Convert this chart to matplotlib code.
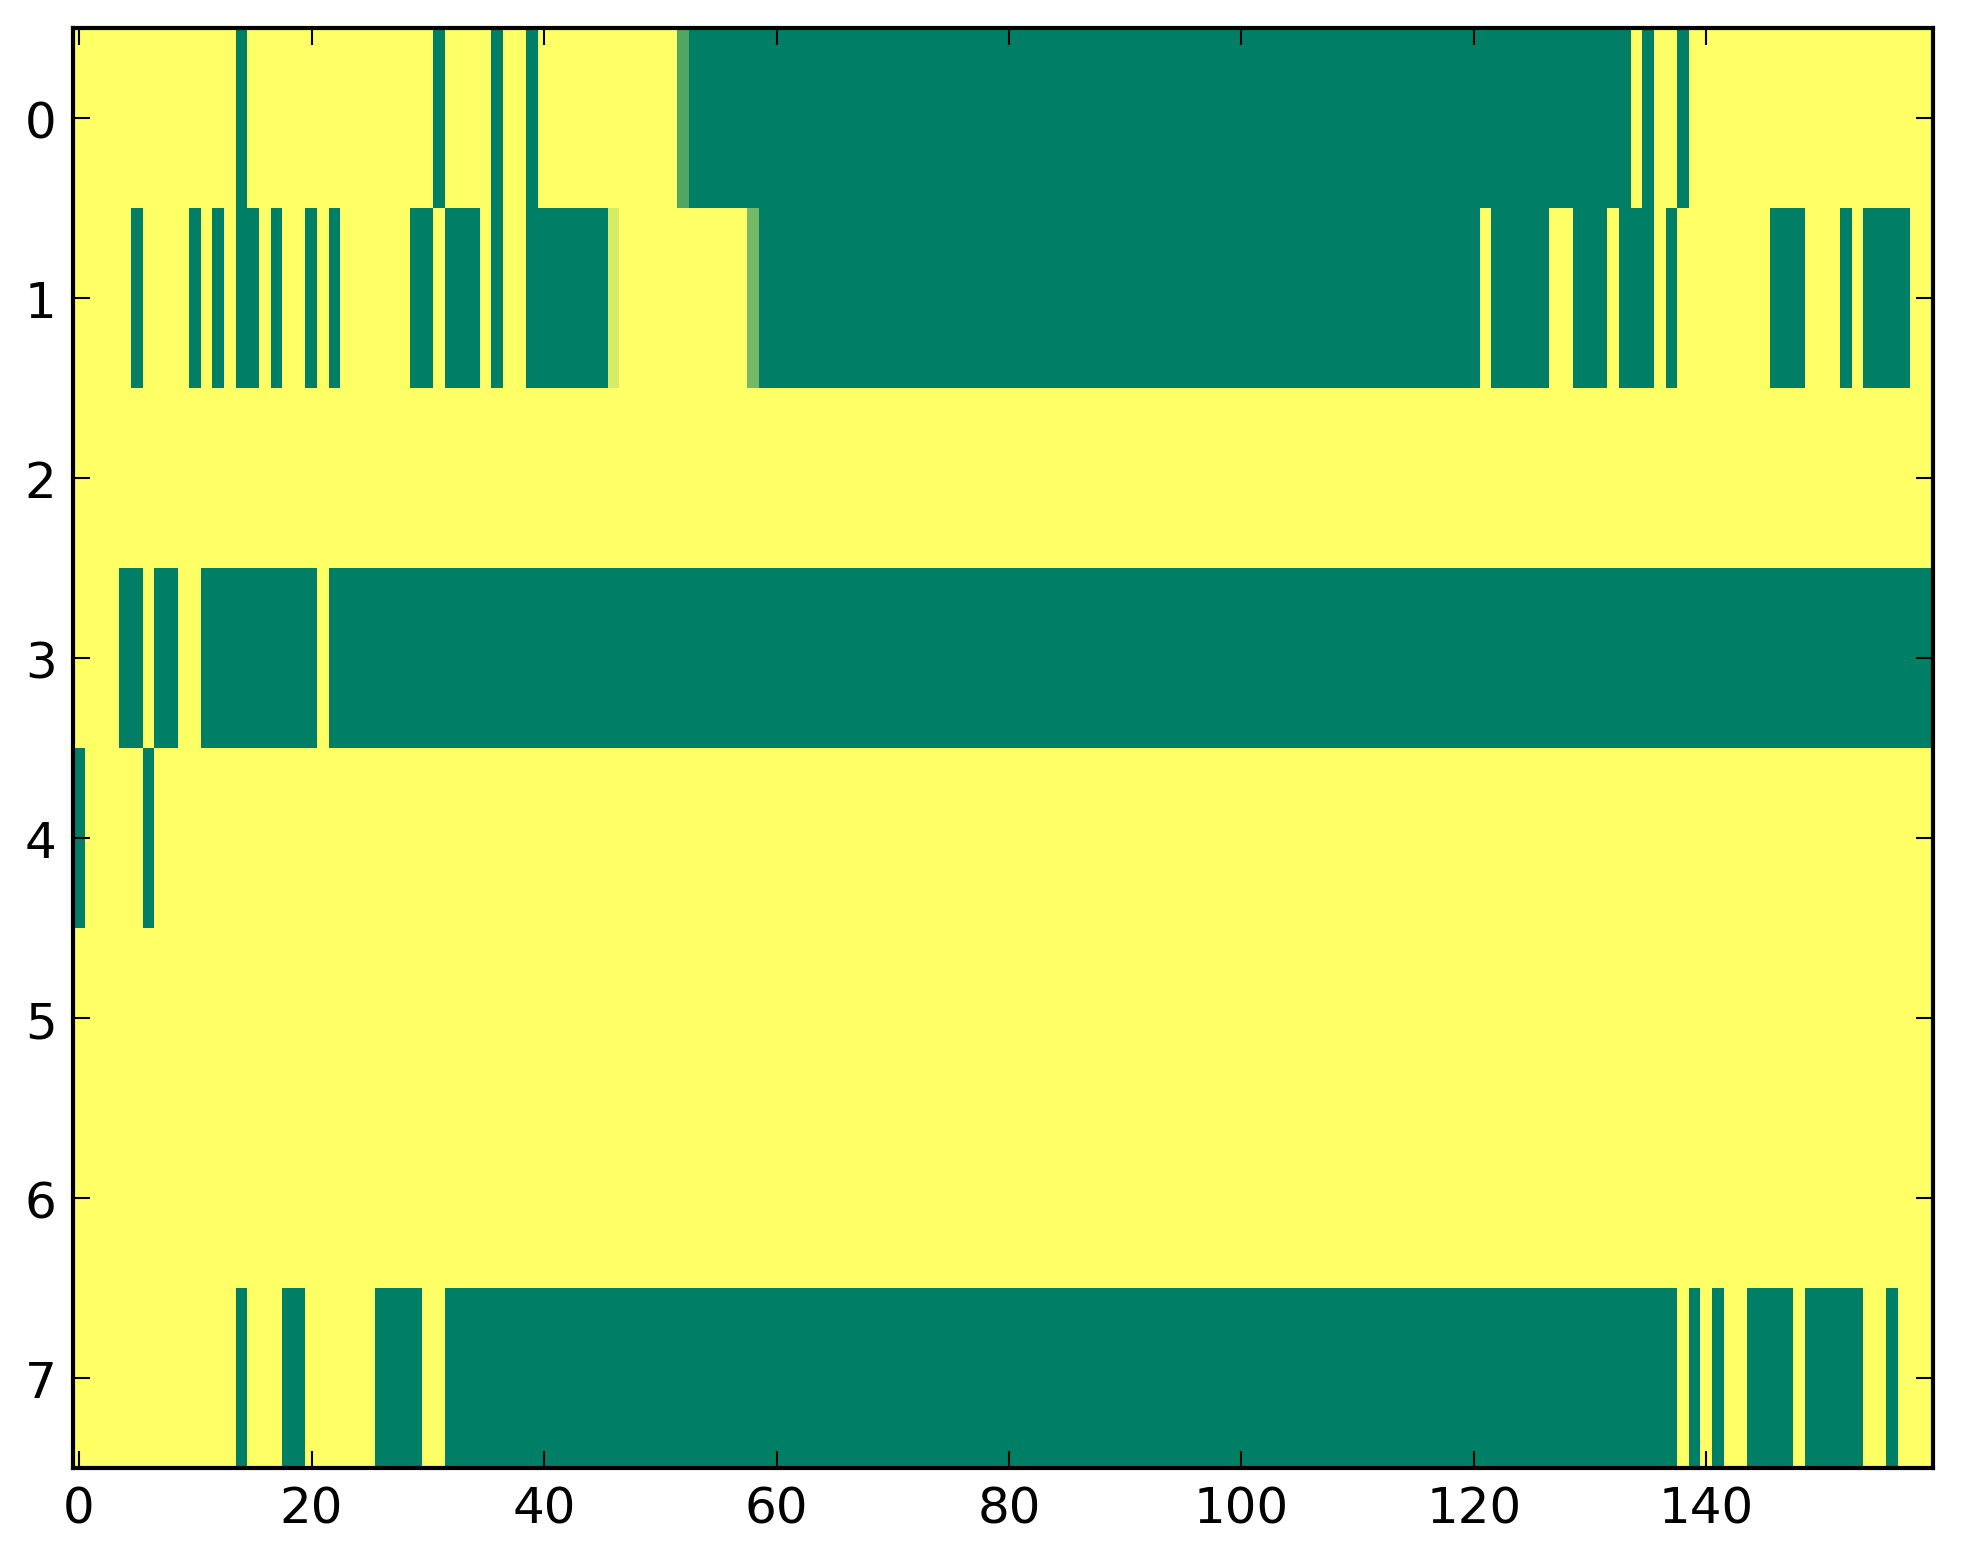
import numpy as np
import matplotlib
matplotlib.use("Agg")
import matplotlib.pyplot as plt

# one string per row, 20 columns per chunk (160 columns in total)
# '.' = 1.0 (yellow), '#' = 0.0 (green), letters = in-between values
levels = {'.': 1.0, '#': 0.0, 'a': 0.31, 'b': 0.45, 'c': 0.84}

row0 = ("..............#....." "...........#....#..#" "............a#######"
        "####################" "####################" "####################"
        "##############.#..#." "....................")
row1 = (".....#....#.#.##.#.." "#.#......##.###.#..#" "######c...........b#"
        "####################" "####################" "####################"
        "#.#####..###.###.#.." "......###...#.####..")
row2 = "." * 160
row3 = ("....##.##..#########" "#.##################" "####################"
        "####################" "####################" "####################"
        "####################" "####################")
row4 = ("#.....#............." "...................." "...................."
        "...................." "...................." "...................."
        "...................." "....................")
row5 = "." * 160
row6 = "." * 160
row7 = ("..............#...##" "......####..########" "####################"
        "####################" "####################" "####################"
        "##################.#" ".#..####.#####..#...")

rows = [row0, row1, row2, row3, row4, row5, row6, row7]
data = np.array([[levels[ch] for ch in r] for r in rows])

xticks = [0, 20, 40, 60, 80, 100, 120, 140]
yticks = [0, 1, 2, 3, 4, 5, 6, 7]

plt.rcParams['font.family'] = 'DejaVu Sans'
plt.rcParams['font.size'] = 12

fig = plt.figure(figsize=(1963 / 300, 1564 / 300), dpi=300)
ax = fig.add_axes([0.0373, 0.0607, 0.9475, 0.9207])
ax.imshow(data, cmap='summer', vmin=0, vmax=1, interpolation='nearest', aspect='auto')

ax.set_xticks(xticks)
ax.set_yticks(yticks)
ax.tick_params(direction='in', top=True, right=True, length=4, width=0.5, pad=4, labelsize=12)
for sp in ax.spines.values():
    sp.set_linewidth(1.0)

fig.savefig('out.png', dpi=300, facecolor='white')
